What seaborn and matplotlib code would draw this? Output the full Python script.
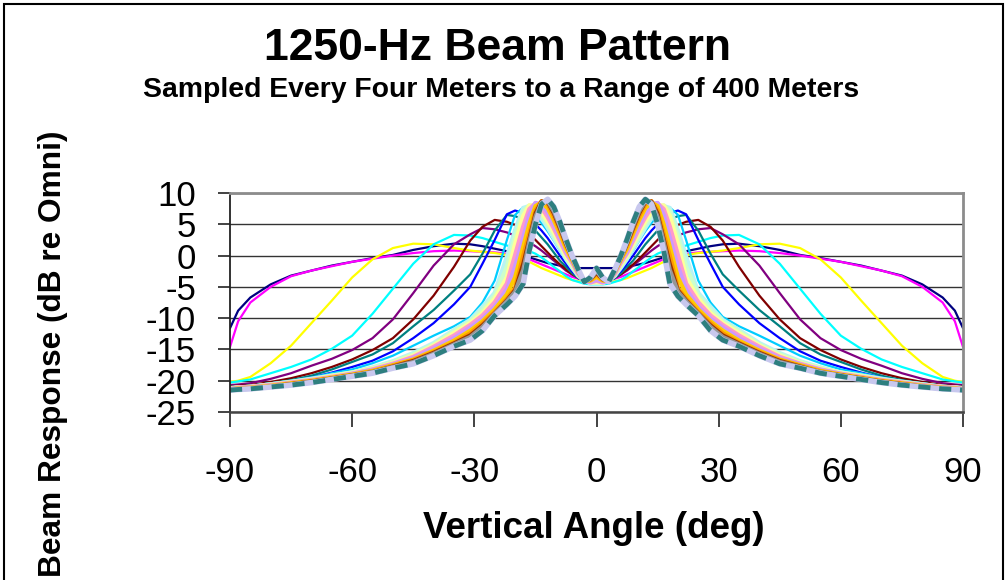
import matplotlib
matplotlib.use("Agg")
import matplotlib.pyplot as plt
import seaborn as sns
import pandas as pd
from matplotlib.patches import Rectangle

# ==========================================
# DATA (0..90 deg, pattern is symmetric)
# ==========================================

angles = [0, 1.5, 3, 4.5, 6, 7.5, 9, 10.5, 12, 13.5, 15, 16.5, 18, 20, 22,
          25, 28, 31, 35, 40, 45, 50, 55, 60, 65, 70, 75, 80, 85, 88, 90]

r004 = [-2.0, -2.0, -2.0, -2.0, -1.9, -1.8, -1.6, -1.4, -1.2, -0.9, -0.6, -0.3, 0.0, 0.4, 0.7,
        1.1, 1.5, 1.8, 1.9, 1.5, 0.9, 0.1, -0.4, -1.0, -1.6, -2.4, -3.2, -4.6, -6.7, -8.8, -11.6]
r008 = [-4.2, -4.2, -4.0, -3.7, -3.4, -3.0, -2.6, -2.2, -1.8, -1.4, -1.0, -0.6, -0.2, 0.1, 0.3,
        0.5, 0.6, 0.7, 0.8, 0.7, 0.4, 0.0, -0.5, -1.0, -1.7, -2.4, -3.3, -5.0, -7.5, -10.5, -14.6]
r012 = [-4.4, -4.4, -4.3, -4.1, -3.9, -3.6, -3.2, -2.8, -2.4, -2.0, -1.5, -1.0, -0.6, -0.2, 0.1,
        0.4, 0.6, 0.8, 1.2, 1.8, 1.9, 1.2, -0.6, -3.5, -7.2, -10.8, -14.4, -17.2, -19.4, -20.0, -20.2]
r016 = [-4.6, -4.6, -4.5, -4.2, -3.9, -3.3, -2.5, -1.8, -1.0, -0.3, 0.3, 0.7, 1.0, 1.3, 1.6,
        2.2, 2.8, 3.2, 3.3, 1.8, -1.3, -5.3, -9.3, -12.8, -14.9, -16.6, -17.8, -18.8, -19.8, -20.1, -20.3]
r020 = [-4.3, -4.3, -4.0, -3.6, -3.0, -2.4, -1.6, -0.8, 0.0, 0.8, 1.5, 2.1, 2.6, 3.2, 3.7,
        4.2, 4.4, 3.4, 1.8, -1.6, -6.0, -10.2, -13.2, -15.1, -16.5, -17.6, -18.8, -19.7, -20.4, -20.6, -20.7]
r024 = [-4.2, -4.2, -4.0, -3.5, -3.0, -2.2, -1.4, -0.5, 0.5, 1.5, 2.5, 3.4, 4.2, 4.9, 5.4,
        5.7, 4.6, 2.4, -1.8, -6.4, -10.2, -13.2, -15.1, -16.6, -17.8, -18.8, -19.6, -20.2, -20.7, -20.8, -20.9]
r028 = [-4.3, -4.3, -4.1, -3.6, -2.8, -1.8, -0.8, 0.5, 1.8, 2.9, 4.0, 5.0, 5.8, 6.3, 6.5,
        4.0, 0.3, -3.0, -5.6, -8.7, -11.3, -14.0, -15.8, -17.0, -18.2, -19.2, -19.9, -20.4, -20.8, -20.9, -21.0]
r032 = [-4.3, -4.3, -4.0, -3.4, -2.5, -1.3, 0.0, 1.4, 2.8, 4.0, 5.0, 6.0, 6.8, 7.2, 6.6,
        2.5, -1.3, -5.0, -7.8, -10.8, -13.2, -15.3, -16.8, -17.8, -18.7, -19.5, -20.1, -20.5, -20.9, -21.0, -21.1]
r036 = [-4.4, -4.4, -4.1, -3.3, -2.2, -0.8, 0.8, 2.4, 3.9, 5.2, 6.3, 7.2, 7.7, 6.5, 2.5,
        -4.0, -7.5, -9.8, -11.3, -12.8, -14.4, -16.0, -17.2, -18.2, -18.8, -19.5, -20.0, -20.4, -20.8, -20.9, -21.1]
r060 = [-4.4, -4.4, -4.0, -3.2, -1.9, -0.5, 1.2, 2.8, 4.5, 6.0, 7.2, 7.9, 7.6, 4.0, -0.2,
        -6.0, -8.2, -10.3, -11.9, -14.0, -15.6, -16.9, -17.9, -18.7, -19.2, -19.7, -20.2, -20.6, -21.0, -21.1, -21.2]
r080 = [-4.3, -4.3, -4.0, -3.1, -1.6, -0.2, 1.5, 3.3, 5.0, 6.5, 7.6, 8.0, 7.1, 3.0, -1.8,
        -6.4, -8.7, -10.5, -12.1, -14.2, -15.8, -17.0, -18.0, -18.7, -19.2, -19.8, -20.2, -20.6, -21.0, -21.1, -21.2]
r100 = [-4.2, -4.3, -4.0, -3.0, -1.4, 0.0, 1.9, 3.8, 5.5, 7.0, 8.0, 8.0, 6.3, 1.8, -3.5,
        -6.9, -9.2, -10.8, -12.4, -14.4, -16.0, -17.2, -18.1, -18.8, -19.3, -19.9, -20.3, -20.7, -21.0, -21.1, -21.3]
r130 = [-4.0, -4.3, -4.0, -2.9, -1.1, 0.4, 2.4, 4.4, 6.2, 7.7, 8.3, 7.4, 4.6, 0.0, -4.5,
        -7.5, -9.6, -11.1, -12.8, -14.6, -16.2, -17.3, -18.2, -18.9, -19.4, -19.9, -20.3, -20.7, -21.0, -21.1, -21.3]
r160 = [-3.8, -4.2, -4.1, -2.8, -0.9, 0.7, 2.9, 5.0, 6.9, 8.2, 8.4, 6.5, 2.8, -1.8, -5.4,
        -8.2, -10.1, -11.5, -13.2, -14.9, -16.4, -17.4, -18.3, -18.9, -19.5, -20.0, -20.4, -20.8, -21.1, -21.2, -21.4]
r200 = [-3.4, -4.0, -4.1, -2.6, -0.7, 1.1, 3.5, 5.7, 7.6, 8.5, 7.9, 5.0, 1.4, -3.5, -6.2,
        -8.6, -10.5, -12.0, -13.6, -15.2, -16.6, -17.5, -18.4, -19.0, -19.5, -20.0, -20.4, -20.8, -21.1, -21.2, -21.4]
r240 = [-3.0, -3.9, -4.1, -2.5, -0.5, 1.6, 4.0, 6.3, 8.2, 8.7, 7.2, 3.5, 0.0, -5.2, -6.9,
        -9.0, -10.8, -12.4, -13.9, -15.4, -16.7, -17.6, -18.5, -19.1, -19.6, -20.1, -20.5, -20.9, -21.2, -21.3, -21.4]
r280 = [-2.8, -3.8, -4.1, -2.4, -0.4, 1.8, 4.3, 6.7, 8.5, 8.7, 6.8, 2.8, -1.2, -5.5, -7.1,
        -9.2, -11.1, -12.7, -14.0, -15.5, -16.8, -17.7, -18.6, -19.1, -19.6, -20.1, -20.5, -20.9, -21.2, -21.3, -21.5]
r320 = [-2.5, -3.7, -4.2, -2.4, -0.3, 2.1, 4.7, 7.1, 8.7, 8.5, 6.2, 2.2, -2.3, -5.8, -7.3,
        -9.3, -11.4, -13.0, -14.2, -15.7, -17.0, -17.8, -18.6, -19.2, -19.7, -20.2, -20.6, -21.0, -21.3, -21.4, -21.5]
r400 = [-2.0, -3.5, -4.2, -2.2, 0.0, 2.6, 5.4, 7.8, 9.0, 8.2, 5.0, 0.8, -4.5, -6.5, -7.8,
        -9.6, -12.0, -13.5, -14.5, -16.0, -17.3, -18.0, -18.8, -19.3, -19.8, -20.3, -20.7, -21.0, -21.3, -21.4, -21.5]

series = [
    (r004, "#000080", 1.6),
    (r008, "#FF00FF", 1.6),
    (r012, "#FFFF00", 1.6),
    (r016, "#00FFFF", 1.6),
    (r020, "#800080", 1.6),
    (r024, "#800000", 1.6),
    (r028, "#008080", 1.6),
    (r032, "#0000FF", 1.6),
    (r036, "#00CCFF", 1.6),
    (r060, "#B8F4F4", 3.2),
    (r080, "#CCFFCC", 3.2),
    (r100, "#FFFF99", 3.2),
    (r130, "#FF99CC", 3.2),
    (r160, "#CC99FF", 3.2),
    (r200, "#FFCC00", 3.0),
    (r240, "#FF9900", 3.0),
    (r280, "#993300", 2.6),
    (r320, "#969696", 3.0),
]

# ==========================================
# PLOT
# ==========================================

sns.set_style("white")
plt.rcParams["font.family"] = ["Liberation Sans", "DejaVu Sans"]
plt.rcParams["axes.unicode_minus"] = False
plt.rcParams["text.color"] = "black"

fig = plt.figure(figsize=(10.07, 5.80), dpi=100)
ax = fig.add_axes([230 / 1007, 168 / 580, 733 / 1007, 219 / 580])


def mirror(vals):
    x = [-a for a in angles[::-1]] + angles[1:]
    y = vals[::-1] + vals[1:]
    return pd.DataFrame({"angle": x, "db": y})


for vals, col, lw in series:
    sns.lineplot(data=mirror(vals), x="angle", y="db", color=col, lw=lw,
                 sort=False, estimator=None, ax=ax)

# farthest range: thick dashed teal over lavender
far = mirror(r400)
sns.lineplot(data=far, x="angle", y="db", color="#C8C8EE", lw=4.0,
             sort=False, estimator=None, ax=ax)
sns.lineplot(data=far, x="angle", y="db", color="#2E7F7F", lw=3.5,
             sort=False, estimator=None, ax=ax)
ax.lines[-1].set_dashes([2.5, 1.8])

ax.set_xlim(-90, 90)
ax.set_ylim(-25, 10)
ax.set_xticks(range(-90, 91, 30))
ax.set_yticks(range(-25, 11, 5))
ax.yaxis.grid(True, color="#333333", lw=1.0)
ax.xaxis.grid(False)
ax.set_axisbelow(True)

for s in ["top", "right"]:
    ax.spines[s].set_color("#8C8C8C")
    ax.spines[s].set_linewidth(2.0)
ax.spines["left"].set_color("#222222")
ax.spines["bottom"].set_color("#444444")
ax.spines["left"].set_linewidth(1.3)
ax.spines["bottom"].set_linewidth(1.8)

ax.tick_params(axis="x", direction="out", length=11, width=1.2, pad=21,
               labelsize=25, colors="#222222", labelcolor="black", bottom=True)
ax.tick_params(axis="y", direction="out", length=9, width=1.2, pad=15.5,
               labelsize=25, colors="#222222", labelcolor="black", left=True)

ax.set_xlabel("")
ax.set_ylabel("")

fig.text(498 / 1007, 1 - 48 / 580, "1250-Hz Beam Pattern", ha="center", va="center",
         fontsize=32, fontweight="bold")
fig.text(501 / 1007, 1 - 90 / 580, "Sampled Every Four Meters to a Range of 400 Meters",
         ha="center", va="center", fontsize=20.4, fontweight="bold")
fig.text(594 / 1007, 1 - 528 / 580, "Vertical Angle (deg)", ha="center", va="center",
         fontsize=26.5, fontweight="bold")
fig.text(53 / 1007, 1 - 354 / 580, "Beam Response (dB re Omni)", ha="center", va="center",
         rotation=90, fontsize=22.8, fontweight="bold")

# chart area border
fig.patches.append(Rectangle((4 / 1007, -0.05), 999 / 1007, 1 - 4 / 580 + 0.05,
                             transform=fig.transFigure, fill=False,
                             edgecolor="black", lw=1.5))

fig.savefig("out.png", dpi=100)
